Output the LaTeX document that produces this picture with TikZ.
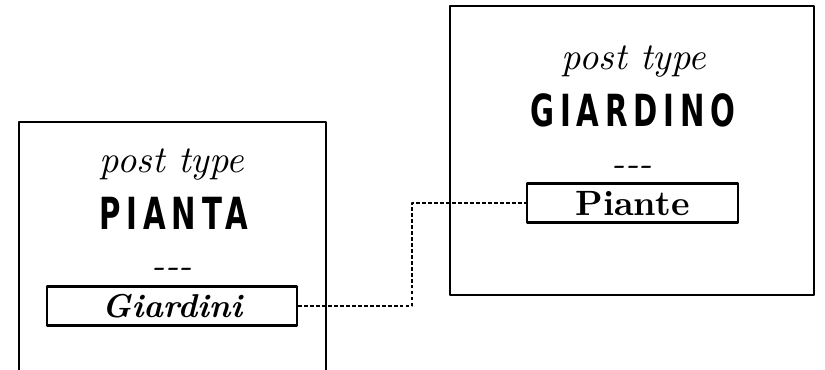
\documentclass[tikz,border=0pt]{standalone}
\usepackage{fontspec}
\newfontfamily\titlefont{DejaVu Sans}[FakeStretch=0.66,LetterSpace=13]
\begin{document}
\begin{tikzpicture}[line join=round,
    posttype/.style={draw,line width=0.6pt,inner sep=0pt},
    kind/.style={font=\fontsize{10.8}{12}\selectfont\itshape,anchor=base},
    title/.style={font=\titlefont\bfseries\fontsize{12.6}{14}\selectfont,anchor=base},
    field/.style={draw,line width=0.6pt,inner sep=0pt,minimum height=0.39cm,text depth=0pt,font=\fontsize{10}{11}\selectfont\bfseries},
    link/.style={line width=0.6pt,dash pattern=on 1.1pt off 0.6pt}]
    \clip (0,0) rectangle (8.25,3.70);
    % post type Pianta
    \node[posttype,minimum width=3.07cm,minimum height=2.6cm] (pianta) at (1.725,1.18) {};
    \node[kind] (piantakind) at (1.72,1.97) {post type};
    \node[title] (piantatitle) at (1.74,1.40) {PIANTA};
    \node[kind] (piantasep) at (1.72,0.92) {-{}-{}-};
    \node[field,minimum width=2.50cm,font=\fontsize{9.4}{10}\selectfont\bfseries\itshape] (giardini) at (1.72,0.64) {Giardini};
    % post type Giardino
    \node[posttype,minimum width=3.64cm,minimum height=2.89cm] (giardino) at (6.32,2.195) {};
    \node[kind] (giardinokind) at (6.34,3.00) {post type};
    \node[title] (giardinotitle) at (6.33,2.43) {GIARDINO};
    \node[kind] (giardinosep) at (6.32,1.94) {-{}-{}-};
    \node[field,minimum width=2.11cm] (piante) at (6.325,1.67) {Piante};
    % relazione
    \coordinate (knee) at (4.12,0);
    \draw[link] (giardini.east) -| (knee |- piante.west) -- (piante.west);
\end{tikzpicture}
\end{document}
